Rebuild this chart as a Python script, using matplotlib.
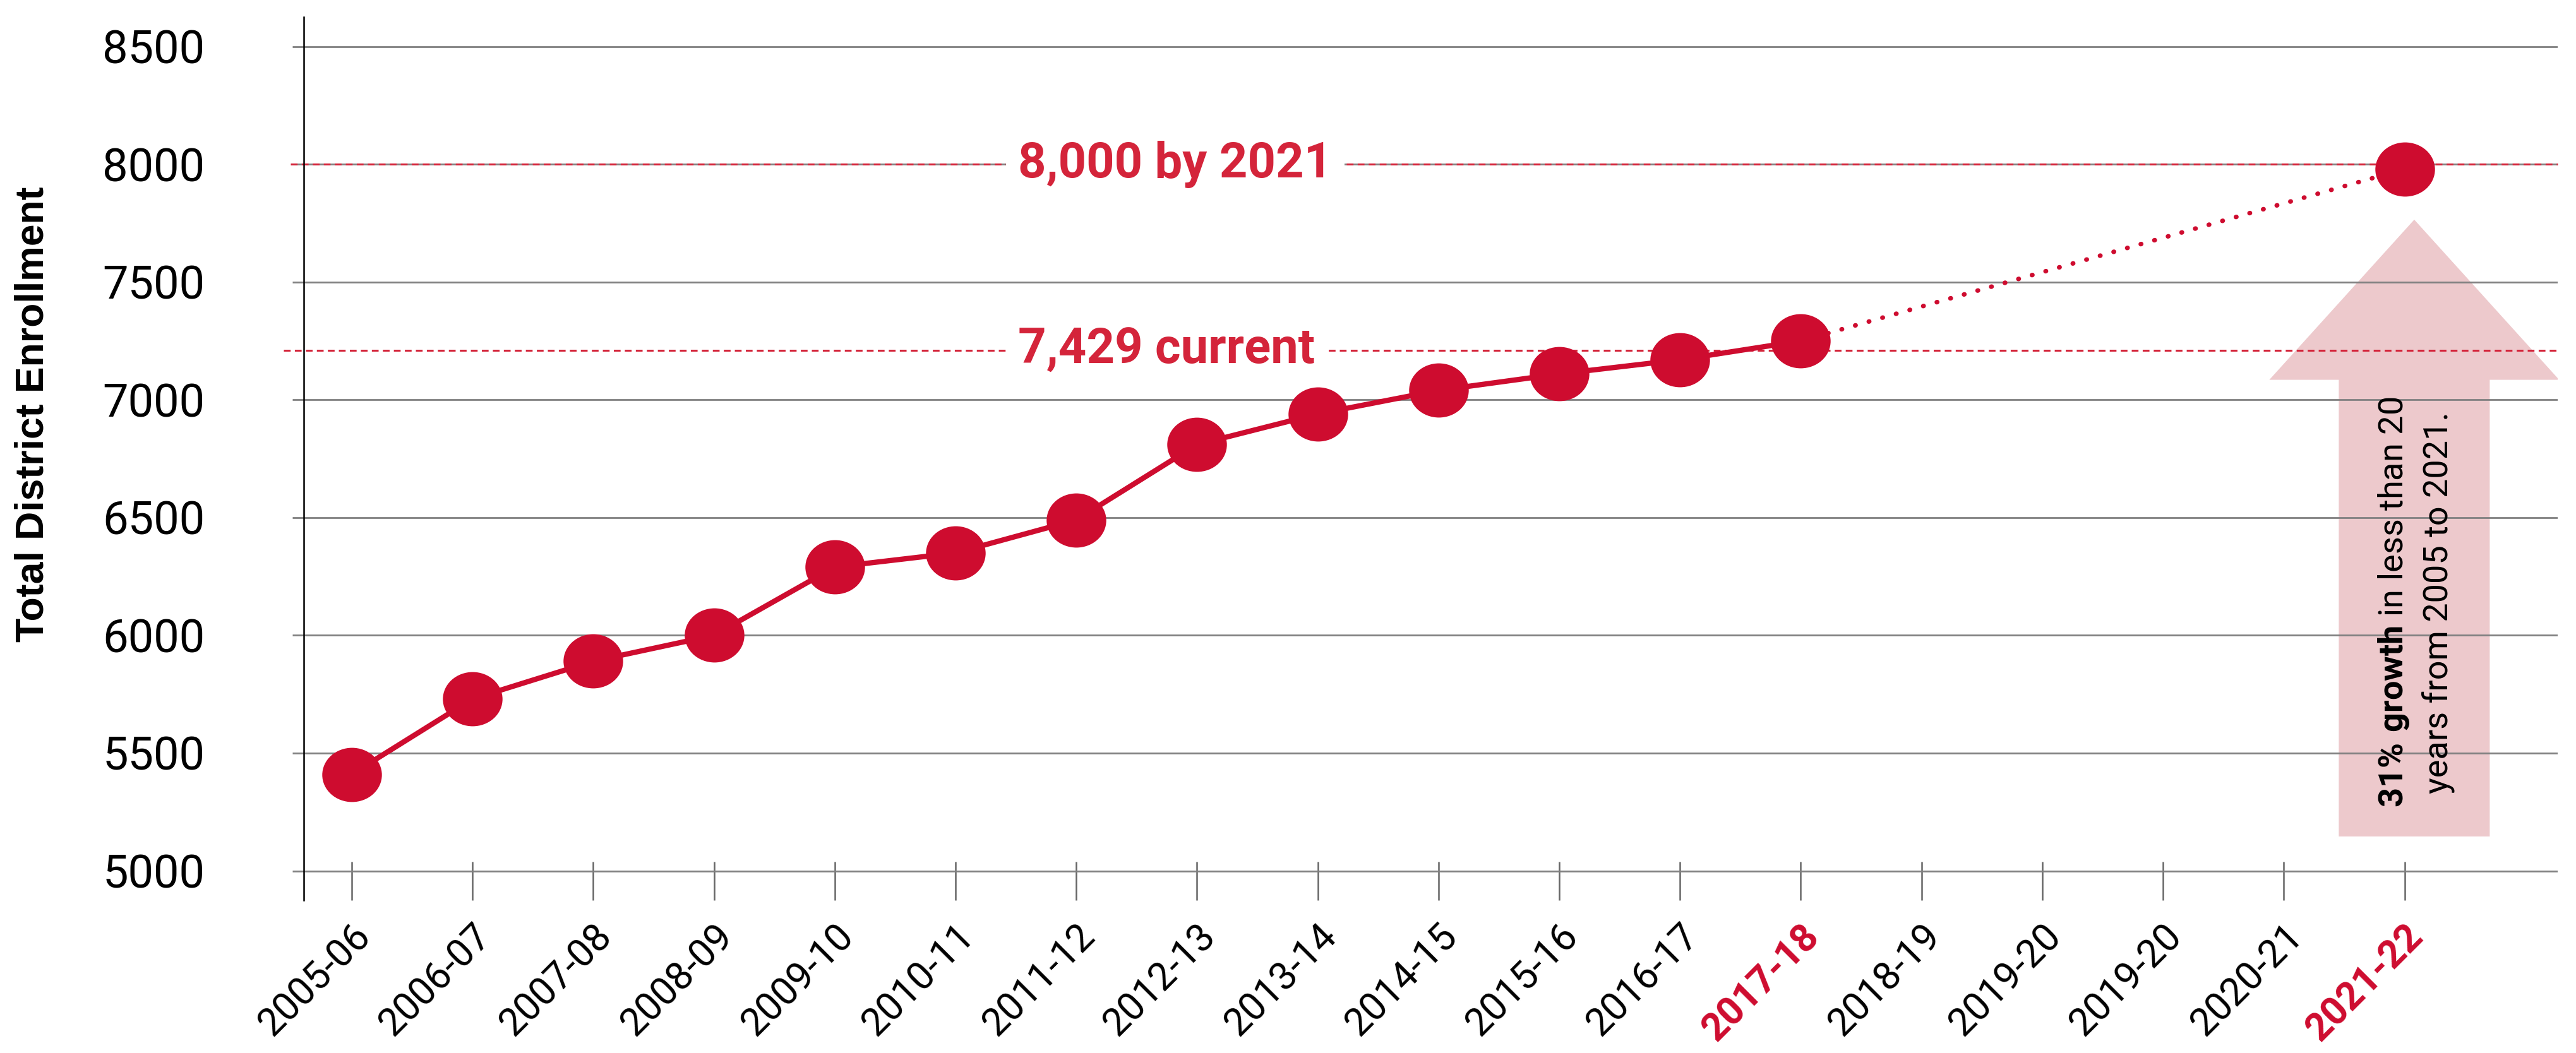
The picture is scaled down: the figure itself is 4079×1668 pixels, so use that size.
# enrollment trend chart with projection to 2021-22

import numpy as np
import matplotlib.pyplot as plt
from matplotlib.path import Path
from matplotlib.transforms import Affine2D
from matplotlib.patches import FancyArrow

plt.rcParams['font.family'] = ['Roboto', 'DejaVu Sans']
plt.rcParams['mathtext.fontset'] = 'custom'
plt.rcParams['mathtext.rm'] = 'Roboto'
plt.rcParams['mathtext.bf'] = 'Roboto:bold'

# data
years = ['2005-06', '2006-07', '2007-08', '2008-09', '2009-10', '2010-11',
         '2011-12', '2012-13', '2013-14', '2014-15', '2015-16', '2016-17',
         '2017-18', '2018-19', '2019-20', '2019-20', '2020-21', '2021-22']
enrollment = [5410, 5730, 5890, 6000, 6290, 6350, 6490, 6810, 6940, 7040,
              7110, 7170, 7250]
goal_value = 7980
target_line = 8000
current_line = 7210
red_labels = ['2017-18', '2021-22']
yticks = [5000, 5500, 6000, 6500, 7000, 7500, 8000, 8500]

red = '#CE0C2F'
dash_red = '#D4243A'
pink = '#EDC9CC'

x = np.arange(len(years))
last = len(enrollment) - 1
goal_x = len(years) - 1

fig = plt.figure(figsize=(20.395, 8.34), dpi=200)
ax = fig.add_axes([0.118, 0.145, 0.875, 0.839])

# slightly wide ellipse marker
ellipse = Path.unit_circle().transformed(Affine2D().scale(1.1, 1.0))

# arrow behind everything
arrow = FancyArrow(goal_x + 0.08, 5146, 0, 7765 - 5146, width=1.25,
                   head_width=2.4, head_length=680,
                   length_includes_head=True, color=pink, lw=0, zorder=0.2)
ax.add_patch(arrow)

ax.text(goal_x + 0.09, 6140,
        r'$\mathbf{31\%\ growth}$ in less than 20' + '\nyears from 2005 to 2021.',
        rotation=90, ha='center', va='center', multialignment='center',
        fontsize=19.5, linespacing=1.4, color='black', zorder=3)

# reference lines
ax.axhline(target_line, xmin=-0.006, xmax=1, color=dash_red, lw=1.1,
           dashes=(3.5, 2.2), clip_on=False, zorder=1)
ax.axhline(current_line, xmin=-0.009, xmax=1, color=dash_red, lw=1.1,
           dashes=(3.5, 2.2), clip_on=False, zorder=1)

box = dict(facecolor='white', edgecolor='none', pad=7)
ax.text(5.52, target_line, '8,000 by 2021', color=dash_red, fontsize=28,
        fontweight='bold', ha='left', va='center', bbox=box, zorder=2)
ax.text(5.52, current_line, '7,429 current', color=dash_red, fontsize=28,
        fontweight='bold', ha='left', va='center', bbox=box, zorder=2)

# projection
ax.plot([x[last], x[goal_x]], [enrollment[last], goal_value], color=red,
        lw=2.6, linestyle=(0, (0.1, 3)), dash_capstyle='round', zorder=3)

# actual series
ax.plot(x[:len(enrollment)], enrollment, color=red, lw=3, zorder=4,
        marker=ellipse, markersize=34, markeredgewidth=0)
ax.plot([x[goal_x]], [goal_value], color=red, lw=0, zorder=4,
        marker=ellipse, markersize=34, markeredgewidth=0)

ax.set_xlim(-0.395, 18.27)
ax.set_ylim(4875, 8626)

ax.set_yticks(yticks)
ax.set_yticklabels([str(v) for v in yticks], fontsize=26, color='black')
ax.set_xticks(x)
ax.set_xticklabels(years, rotation=45, ha='right', rotation_mode='anchor',
                   fontsize=22, color='black')
for lab in ax.get_xticklabels():
    if lab.get_text() in red_labels:
        lab.set_color(red)
        lab.set_fontweight('bold')

ax.grid(axis='y', color='#808080', lw=1.0)
ax.set_axisbelow(True)
ax.tick_params(axis='y', direction='out', length=6.5, width=1.0,
               color='#808080', pad=50)
ax.tick_params(axis='x', direction='in', length=22, width=0.9,
               color='#666666', pad=10)

for side in ['top', 'right', 'bottom']:
    ax.spines[side].set_visible(False)
ax.spines['left'].set_color('black')
ax.spines['left'].set_linewidth(0.9)

ax.set_ylabel('Total District Enrollment', fontsize=22.5, fontweight='bold',
              family=['Liberation Sans', 'DejaVu Sans'])
ax.yaxis.set_label_coords(-0.112, 0.55)

fig.savefig('out.png', dpi=200, facecolor='white')
